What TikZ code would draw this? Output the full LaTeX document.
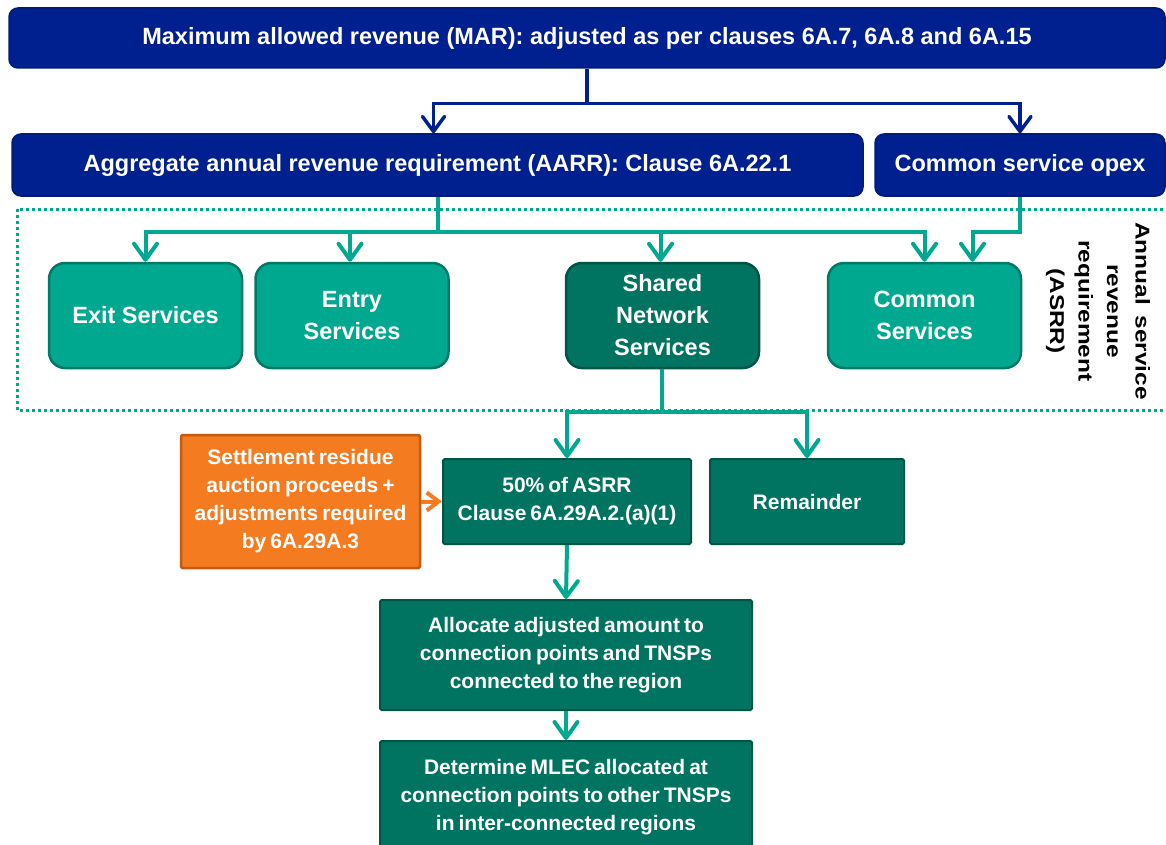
\documentclass[tikz,border=0pt]{standalone}
\usepackage{fontspec}
\setmainfont{Liberation Sans}
\usetikzlibrary{arrows.meta,calc}
\definecolor{navy}{HTML}{00208F}
\definecolor{navyedge}{HTML}{001A75}
\definecolor{tealA}{HTML}{00A88F}
\definecolor{tealAedge}{HTML}{007A66}
\definecolor{tealB}{HTML}{007460}
\definecolor{tealBedge}{HTML}{005545}
\definecolor{orng}{HTML}{F47B20}
\definecolor{orngedge}{HTML}{C55A11}
\newcommand{\mylowfont}{\fontsize{21}{28}\selectfont\bfseries\spaceskip 4pt\relax}
\begin{document}
\begin{tikzpicture}[x=1pt,y=-1pt,
  bluebox/.style={draw=navyedge, fill=navy, line width=1.5pt, rounded corners=9pt,
    text=white, font=\fontsize{23.5}{28}\selectfont\bfseries, inner sep=0pt},
  svcbox/.style={draw=tealAedge, fill=tealA, line width=2.5pt, rounded corners=16pt,
    text=white, font=\fontsize{23.5}{32}\selectfont\bfseries, align=center, inner sep=0pt,
    minimum width=193pt, minimum height=105pt},
  sharedbox/.style={svcbox, draw=tealBedge, fill=tealB},
  stepbox/.style={draw=tealBedge, fill=tealB, line width=2pt, rounded corners=1.5pt,
    text=white, font=\mylowfont, align=center, inner sep=0pt},
  orangebox/.style={draw=orngedge, fill=orng, line width=2.5pt, rounded corners=1.5pt,
    text=white, font=\mylowfont, align=center, inner sep=0pt},
  bluearrow/.style={draw=navy, line width=3.5pt, -{Straight Barb[length=15pt,width=22pt,round]}},
  blueline/.style={draw=navy, line width=3.5pt},
  greenarrow/.style={draw=tealA, line width=4pt, -{Straight Barb[length=16pt,width=23pt,round]}},
  greenline/.style={draw=tealA, line width=4pt},
  orangearrow/.style={draw=orng, line width=4pt, -{Straight Barb[length=12pt,width=18pt]}},
]
\useasboundingbox (0,0) rectangle (1166,845);
\clip (0,0) rectangle (1166,845);

% dotted ASRR frame
\draw[tealA, line width=3pt, dash pattern=on 3pt off 3pt] (17,209) rectangle (1172,410);

% top level
\node[bluebox, minimum width=1156pt, minimum height=60pt] (MAR) at (587,38)
  {Maximum allowed revenue (MAR): adjusted as per clauses 6A.7, 6A.8 and 6A.15};
\node[bluebox, minimum width=851pt, minimum height=62pt] (AARR) at (437.5,165)
  {Aggregate annual revenue requirement (AARR): Clause 6A.22.1};
\node[bluebox, minimum width=290pt, minimum height=62pt] (Opex) at (1020,165)
  {Common service opex};

% services
\node[svcbox] (Exit) at (145.5,315.5) {Exit Services};
\node[svcbox] (Entry) at (352,315.5) {Entry\\Services};
\node[sharedbox] (Shared) at (662.5,315.5) {Shared\\Network\\Services};
\node[svcbox] (Common) at (924.5,315.5) {Common\\Services};

\node[rotate=-90, xscale=1.22, align=center, font=\fontsize{20}{28.5}\selectfont\bfseries, inner sep=0pt]
  (ASRR) at (1098,311) {Annual\hspace{9pt}service\\revenue\\requirement\\(ASRR)};

% lower steps
\node[orangebox, minimum width=239pt, minimum height=133pt] (Settle) at (300.5,501.5)
  {Settlement residue\\auction proceeds +\\adjustments required\\by 6A.29A.3};
\node[stepbox, minimum width=248pt, minimum height=85pt] (Fifty) at (567,501.5)
  {50\% of ASRR\\Clause 6A.29A.2.(a)(1)};
\node[stepbox, minimum width=194pt, minimum height=85pt] (Rem) at (807,501.5)
  {Remainder};
\node[stepbox, minimum width=372pt, minimum height=110pt] (Alloc) at (566,655)
  {Allocate adjusted amount to\\connection points and TNSPs\\connected to the region};
\node[stepbox, minimum width=372pt, minimum height=122pt] (Det) at (566,802)
  {};
\node[font=\mylowfont, text=white, align=center, inner sep=0pt]
  (DetText) at (566,797)
  {Determine MLEC allocated at\\connection points to other TNSPs\\in inter-connected regions};

% blue connectors
\draw[blueline] (MAR.south) -- ++(0,35) coordinate (bbus);
\draw[bluearrow] (bbus) -| ($(AARR.north)+(-4,0)$);
\draw[bluearrow] (bbus) -| (Opex.north);

% green connectors
\draw[greenline] (AARR.south) -- ++(0,35) coordinate (gbus);
\draw[greenarrow] (gbus) -| (Exit.north);
\draw[greenarrow] (gbus) -| ($(Entry.north)+(-2,0)$);
\draw[greenarrow] (gbus) -| ($(Shared.north)+(-2,0)$);
\draw[greenarrow] (gbus) -| (Common.north);
\draw[greenarrow] (Opex.south) -- ++(0,35) -| ($(Common.north)+(48,0)$);

\draw[greenline] ($(Shared.south)+(-1,0)$) -- ++(0,43) coordinate (sbus);
\draw[greenarrow] (sbus) -| (Fifty.north);
\draw[greenarrow] (sbus) -| (Rem.north);

\draw[orangearrow] (Settle.east) -- (Fifty.west);
\draw[greenarrow] (Fifty.south) -- (Alloc.north);
\draw[greenarrow] (Alloc.south) -- (Det.north);
\end{tikzpicture}
\end{document}
